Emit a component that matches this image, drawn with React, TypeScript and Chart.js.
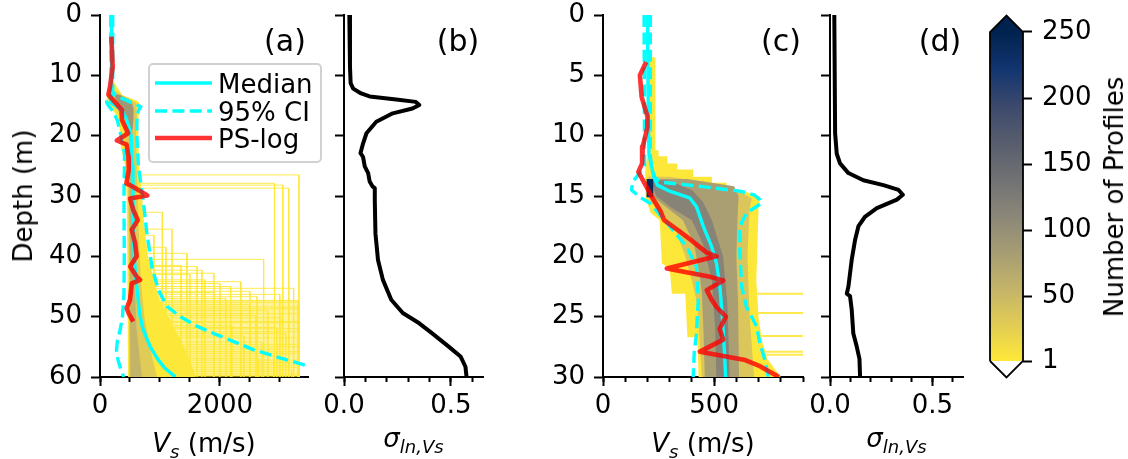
import React, { useEffect, useRef } from "react";
import { Chart, registerables } from "chart.js";

Chart.register(...registerables);

const W = 1128;
const H = 459;
const FONT_FAMILY = "'DejaVu Sans', sans-serif";
const FONT_SIZE = 26;
const PANEL_FONT_SIZE = 30;
const BASELINE_RATIO = 22 / 26; // baseline offset of DejaVu Sans in a line box as tall as the font

const CYAN = "#00ffff";
const RED = "rgba(255, 0, 0, 0.8)";
const DASH = [12, 5.4];

// [depth (m), value] rows
type Row = [number, number];

// ---------------- Panel (a): 0-60 m ----------------
const aMedian: Row[] = [[0, 195], [13.3, 192], [14.0, 172], [14.6, 192], [15.7, 360], [17, 430], [18.5, 480], [20, 520], [25, 535], [30, 550], [35, 555], [40, 570], [44, 600], [46, 625], [48, 645], [50, 670], [52, 715], [55, 840], [57, 960], [58.5, 1080], [60, 1260]];
const aLower: Row[] = [[0, 180], [13.3, 185], [13.9, 130], [14.4, 110], [15.0, 140], [16, 220], [17.5, 290], [20, 350], [23, 410], [30, 400], [40, 405], [46, 400], [50, 375], [52, 340], [54, 290], [55.5, 275], [57.2, 300], [58.8, 350], [60, 395]];
const aUpper: Row[] = [[0, 212], [12.8, 212], [13.3, 260], [13.6, 320], [14.4, 500], [15.2, 680], [15.7, 650], [16.6, 615], [20, 615], [25, 640], [30.7, 720], [36, 780], [41.7, 865], [45.6, 975], [48.3, 1117], [50, 1340], [51.5, 1600], [52.8, 1900], [54, 2200], [55.5, 2565], [57.2, 3130], [58.3, 3515]];
const aPsLog: Row[] = [[3.6, 190], [8.6, 212], [11.9, 167], [13.2, 140], [15.7, 360], [17.4, 365], [19.6, 470], [20.8, 280], [21.5, 445], [23.5, 475], [25.7, 480], [27.9, 440], [28.3, 520], [29.9, 790], [30.4, 500], [32.3, 555], [34, 630], [35.6, 530], [37.8, 585], [40, 612], [41.7, 502], [43.4, 614], [43.9, 670], [44.5, 530], [47.2, 500], [48.6, 445], [49.4, 475], [50.8, 555]];

// profile density bands (left edge and right edge, traced down in depth)
const aSparseLeft: Row[] = [[47.3, 1000], [50, 1150], [53, 1300], [56, 1450], [60, 1600]];
const aSparseRight: Row[] = [[47.3, 3330], [60, 3330]];
const aBandLeft: Row[] = [[10.8, 180], [11.5, 165], [12.5, 140], [13.5, 115], [14.5, 108], [15.3, 140], [16, 230], [17, 300], [19, 330], [22, 350], [25, 420], [30, 445], [40, 455], [50, 462], [60, 468]];
const aBandRight: Row[] = [[10.8, 215], [11.5, 260], [12.2, 300], [12.8, 340], [13.3, 380], [13.6, 450], [14.2, 620], [15.0, 690], [15.8, 665], [17, 640], [20, 635], [25, 655], [30, 700], [35, 740], [40, 800], [44, 900], [47.3, 1000], [50, 1150], [53, 1300], [56, 1450], [60, 1600]];
const aCore1Left: Row[] = [[12.6, 170], [13.5, 150], [14.5, 180], [16, 300], [18, 390], [22, 430], [30, 470], [40, 480], [50, 485], [60, 490]];
const aCore1Right: Row[] = [[12.6, 250], [13.5, 400], [14.5, 600], [16, 615], [20, 600], [25, 610], [30, 630], [40, 660], [45, 690], [50, 740], [55, 830], [60, 950]];
const aCore2Left: Row[] = [[13.2, 230], [14.5, 290], [16, 380], [17.5, 450], [19, 480]];
const aCore2Right: Row[] = [[13.2, 330], [14.2, 520], [15.5, 560], [17.5, 555], [19, 545]];
const aCore3Left: Row[] = [[19, 485], [30, 495], [45, 500], [60, 505]];
const aCore3Right: Row[] = [[19, 540], [30, 560], [45, 580], [52, 610], [60, 700]];
const aBandCounts = [1, 2, 30, 90, 55];

// single profiles stepping to a stiff layer: depth of the step, velocity below it
const aStepDepth = [26.5, 27.9, 28.2, 28.7, 32.7, 35.5, 36.5, 38.5, 39.5, 40.5, 41.5, 41.7, 42.3, 42.8, 43.0, 43.9, 44.2, 44.5, 45.0, 45.3, 45.8, 46.0, 46.3, 46.7, 47.0, 47.3, 47.6, 48.0, 48.4, 48.7, 49.0, 49.5, 49.8, 50.2, 50.8, 51.0, 51.5, 51.8, 52.0, 52.5, 52.8, 53.2, 53.5, 54.2, 54.6, 55.0, 55.4, 55.8, 56.1, 56.5, 56.9, 57.2, 57.6, 58.0, 58.4, 58.8, 59.1, 59.5, 59.8];
const aStepVs = [3320, 2910, 3050, 3150, 1040, 1200, 900, 1100, 1450, 2730, 1350, 1620, 1700, 1900, 1500, 1750, 2350, 2000, 2180, 3230, 2500, 1900, 3000, 2620, 2100, 3300, 3320, 2500, 3320, 3320, 2800, 3320, 2600, 3000, 3320, 3320, 2200, 2950, 3320, 3320, 3100, 2400, 3320, 2700, 3320, 3320, 3000, 3320, 3320, 2900, 2650, 3320, 3320, 3320, 3320, 3200, 3000, 3320, 3320];
const aStepFrom = 600;

// ---------------- Panel (b): sigma ln Vs, 0-60 m ----------------
const bSigma: Row[] = [[0, 0.025], [8.6, 0.028], [11.3, 0.031], [12.2, 0.043], [13.0, 0.08], [13.5, 0.12], [14.0, 0.244], [14.4, 0.336], [14.9, 0.352], [15.5, 0.32], [16.3, 0.228], [17.7, 0.151], [19.6, 0.105], [21.3, 0.089], [22.9, 0.077], [23.5, 0.089], [25.1, 0.097], [26.2, 0.113], [27.6, 0.12], [28.4, 0.133], [28.7, 0.144], [30.7, 0.144], [36.2, 0.147], [40.6, 0.159], [43.9, 0.182], [47.2, 0.221], [49.4, 0.275], [51.1, 0.352], [52.8, 0.414], [55, 0.491], [56.6, 0.545], [58.3, 0.568], [60, 0.573]];

// ---------------- Panel (c): 0-30 m ----------------
const cMedian: Row[] = [[0, 200], [9, 204], [11.5, 207], [12.6, 219], [13.4, 228], [14.1, 245], [14.6, 300], [15.15, 390], [15.9, 421], [17.5, 451], [19.2, 489], [20.6, 511], [22.5, 526], [25, 537], [27.8, 546], [30, 552]];
const cLower: Row[] = [[0, 185], [12.5, 187], [13.2, 160], [13.8, 135], [14.5, 128], [15.1, 166], [15.6, 212], [17.5, 300], [19.2, 377], [20.9, 421], [23.6, 429], [25, 424], [26.4, 421], [27.8, 411], [30, 406]];
const cUpper: Row[] = [[0, 213], [11.7, 213], [12.8, 220], [13.5, 235], [13.85, 260], [14.2, 440], [14.6, 616], [14.9, 680], [15.3, 706], [15.6, 714], [16.4, 646], [17.5, 616], [19.7, 616], [22.5, 624], [24.2, 646], [25.8, 691], [27.2, 706], [28.6, 729], [30, 744]];
const cPsLog: Row[] = [[3.9, 194], [5, 166], [6.8, 174], [8.4, 200], [9.3, 200], [10.9, 179], [12.3, 176], [13, 159], [15.3, 227], [16.2, 257], [17, 275], [17.8, 335], [18.6, 392], [19.7, 467], [20, 511], [21, 287], [21.7, 482], [22, 541], [22.8, 467], [23.6, 489], [24.2, 511], [25, 553], [26, 525], [26.9, 541], [27.9, 436], [28.6, 640], [29.1, 706], [30, 792]];

const cBandLeft: Row[] = [[3.5, 203], [11, 203], [13, 190], [15.2, 192], [16.4, 215], [17, 255], [20.6, 265], [21, 300], [23.1, 310], [23.1, 370], [26.7, 380], [26.7, 425], [30, 430]];
const cBandRight: Row[] = [[3.5, 236], [11.2, 236], [11.2, 250], [11.7, 250], [11.7, 290], [12.3, 290], [12.3, 335], [12.8, 335], [12.8, 405], [13.4, 405], [13.4, 490], [13.9, 490], [13.9, 556], [14.5, 556], [14.5, 620], [14.9, 680], [15.2, 706], [16.0, 700], [22, 690], [25, 700], [27, 715], [28.5, 740], [30, 800]];
const cOliveLeft: Row[] = [[13.4, 200], [15.2, 205], [16.5, 260], [17.5, 320], [20, 370], [22, 400], [24, 425], [30, 445]];
const cOliveRight: Row[] = [[13.4, 300], [13.9, 470], [14.5, 600], [15.2, 670], [16, 660], [20, 650], [25, 660], [30, 680]];
const cGrayLeft: Row[] = [[13.6, 215], [14.2, 215], [15.2, 235], [16, 290], [17, 360], [19, 410], [21, 430], [23, 445], [26, 452], [30, 458]];
const cGrayRight: Row[] = [[13.6, 380], [14.2, 590], [15, 610], [17, 605], [20, 600], [24, 608], [30, 612]];
const cDarkLeft: Row[] = [[13.7, 215], [15, 240], [16, 310], [17, 400], [19, 450], [22, 490], [26, 505], [30, 510]];
const cDarkRight: Row[] = [[13.7, 290], [14.5, 400], [15.5, 450], [17, 490], [20, 540], [24, 560], [30, 570]];
const cPeakLeft: Row[] = [[13.6, 196], [15.1, 196]];
const cPeakRight: Row[] = [[13.6, 226], [15.1, 226]];
const cBandCounts = [2, 35, 80, 115, 240];

const cStepDepth = [23.1, 24.7, 26.6, 27.9, 28.15];
const cStepVs = [950, 950, 950, 950, 950];
const cStepFrom = 690;

// ---------------- Panel (d): sigma ln Vs, 0-30 m ----------------
const dSigma: Row[] = [[0, 0.021], [9.8, 0.025], [11.5, 0.033], [12.3, 0.049], [13.1, 0.09], [13.7, 0.163], [14.1, 0.261], [14.5, 0.335], [14.9, 0.356], [15.3, 0.327], [16.0, 0.229], [16.7, 0.172], [17.5, 0.139], [18.6, 0.123], [20.3, 0.106], [22.5, 0.09], [23.1, 0.082], [23.3, 0.098], [24.4, 0.106], [26.4, 0.114], [27.5, 0.131], [28.5, 0.144], [30, 0.147]];

// ---------------- axes ----------------
const aXMax = 3470;
const aXMajor = [0, 2000];
const aXLabels = ["0", "2000"];
const aXMinor = [0, 500, 1000, 1500, 2000, 2500, 3000];
const aDepthTicks = [0, 10, 20, 30, 40, 50, 60];
const sigmaXMax = 0.65;
const sigmaXMajor = [0, 0.5];
const sigmaXLabels = ["0.0", "0.5"];
const sigmaXMinor = [0, 0.1, 0.2, 0.3, 0.4, 0.5, 0.6];
const cXMax = 900;
const cXMajor = [0, 500];
const cXLabels = ["0", "500"];
const cXMinor = [0, 100, 200, 300, 400, 500, 600, 700, 800, 900];
const cDepthTicks = [0, 5, 10, 15, 20, 25, 30];
const COUNT_MIN = 1;
const COUNT_MAX = 250;
const countTicks = [1, 50, 100, 150, 200, 250];

// cividis, dark to light
const CIVIDIS = ["#00224e", "#123570", "#3b496c", "#575d6d", "#707173", "#8a8678", "#a59c74", "#c3b369", "#e1cc55", "#fee838"];

function hexRgb(h: string) {
  const n = parseInt(h.slice(1), 16);
  return [(n >> 16) & 255, (n >> 8) & 255, n & 255];
}

// reversed cividis: one profile is yellow, the maximum count is navy
function profileColor(count: number, alpha = 1) {
  const c = Math.min(Math.max(count, COUNT_MIN), COUNT_MAX);
  const t = 1 - (c - COUNT_MIN) / (COUNT_MAX - COUNT_MIN);
  const pos = t * (CIVIDIS.length - 1);
  const i = Math.min(Math.floor(pos), CIVIDIS.length - 2);
  const f = pos - i;
  const a = hexRgb(CIVIDIS[i]);
  const b = hexRgb(CIVIDIS[i + 1]);
  const m = a.map((v, k) => Math.round(v + (b[k] - v) * f));
  return `rgba(${m[0]}, ${m[1]}, ${m[2]}, ${alpha})`;
}

const pts = (rows: Row[]) => rows.map(([d, v]) => ({ x: v, y: d }));
const outline = (left: Row[], right: Row[]) => [...pts(left), ...pts(right).reverse()];

function band(left: Row[], right: Row[], count: number, alpha = 1) {
  return { data: outline(left, right), fill: "shape", backgroundColor: profileColor(count, alpha), borderWidth: 0 };
}

function curve(rows: Row[], color: string, width: number, dash: number[] = []) {
  return { data: pts(rows), borderColor: color, borderWidth: width, borderDash: dash, fill: false, borderJoinStyle: "round" };
}

function steps(depths: number[], vs: number[], from: number, bottom: number, width: number) {
  const data: any[] = [];
  depths.forEach((d, i) => {
    data.push({ x: from, y: d }, { x: vs[i], y: d }, { x: vs[i], y: bottom }, { x: null, y: null });
  });
  return { data, borderColor: profileColor(1, 0.9), borderWidth: width, fill: false, spanGaps: false };
}

// ---------------- layout ----------------
const AXIS_W = 70;
const AXIS_H = 60;
const TOP = 15;
const BOTTOM = 377;
const AREA_A = { left: 100, right: 308 };
const AREA_B = { left: 344, right: 483 };
const AREA_C = { left: 603, right: 803 };
const AREA_D = { left: 830, right: 963 };
const CB = { left: 990, right: 1023, top: 32, bottom: 361, axisW: 80 };

const tickFont = { family: FONT_FAMILY, size: FONT_SIZE };
const noPad = (sc: any) => {
  sc.paddingLeft = 0;
  sc.paddingRight = 0;
  sc.paddingTop = 0;
  sc.paddingBottom = 0;
};

interface PanelSpec {
  left: number;
  right: number;
  xMax: number;
  xMajor: number[];
  xLabels: string[];
  xMinor: number[];
  yMax: number;
  yTicks: number[];
  yLabels: boolean;
  datasets: any[];
}

function panelConfig(s: PanelSpec): any {
  const n = s.datasets.length;
  return {
    type: "line",
    data: {
      datasets: s.datasets.map((d, i) => ({ order: n - i, pointRadius: 0, pointHoverRadius: 0, tension: 0, ...d })),
    },
    options: {
      responsive: false,
      animation: false,
      devicePixelRatio: 1,
      events: [],
      layout: {
        autoPadding: false,
        padding: { left: s.left - AXIS_W, right: W - s.right, top: TOP, bottom: H - BOTTOM - AXIS_H },
      },
      plugins: { legend: { display: false }, tooltip: { enabled: false }, title: { display: false } },
      scales: {
        // minor ticks: a zero-height axis sitting right on the plot edge
        xMinor: {
          type: "linear",
          axis: "x",
          position: "bottom",
          weight: 0,
          min: 0,
          max: s.xMax,
          afterBuildTicks: (sc: any) => {
            sc.ticks = s.xMinor.map((value) => ({ value }));
          },
          afterFit: (sc: any) => {
            sc.height = 0;
            noPad(sc);
          },
          ticks: { display: false },
          grid: { drawOnChartArea: false, drawTicks: true, tickLength: 5, tickWidth: 2, tickColor: "#000" },
          border: { display: false },
        },
        x: {
          type: "linear",
          position: "bottom",
          weight: 1,
          min: 0,
          max: s.xMax,
          afterBuildTicks: (sc: any) => {
            sc.ticks = s.xMajor.map((value) => ({ value }));
          },
          afterFit: (sc: any) => {
            sc.height = AXIS_H;
            noPad(sc);
          },
          ticks: {
            autoSkip: false,
            maxRotation: 0,
            minRotation: 0,
            padding: 5,
            color: "#000",
            font: tickFont,
            callback: (_v: any, i: number) => s.xLabels[i],
          },
          grid: { drawOnChartArea: false, drawTicks: true, tickLength: 9, tickWidth: 2, tickColor: "#000" },
          border: { display: true, color: "#000", width: 2 },
        },
        y: {
          type: "linear",
          position: "left",
          reverse: true,
          min: 0,
          max: s.yMax,
          afterBuildTicks: (sc: any) => {
            sc.ticks = s.yTicks.map((value) => ({ value }));
          },
          afterFit: (sc: any) => {
            sc.width = AXIS_W;
            noPad(sc);
          },
          ticks: {
            display: s.yLabels,
            autoSkip: false,
            padding: 9,
            color: "#000",
            font: tickFont,
            callback: (v: any) => String(v),
          },
          grid: { drawOnChartArea: false, drawTicks: true, tickLength: 9, tickWidth: 2, tickColor: "#000" },
          border: { display: true, color: "#000", width: 2 },
        },
      },
    },
  };
}

function colorbarConfig(): any {
  const ext = 0.05 * (COUNT_MAX - COUNT_MIN);
  const pxPerCount = (CB.bottom - CB.top) / (COUNT_MAX - COUNT_MIN);
  const extPx = ext * pxPerCount;
  const gradient = (ctx: any) => {
    const chart = ctx.chart;
    const y = chart.scales && chart.scales.y;
    if (!chart.chartArea || !y) return CIVIDIS[CIVIDIS.length - 1];
    const g = chart.ctx.createLinearGradient(0, y.getPixelForValue(COUNT_MIN), 0, y.getPixelForValue(COUNT_MAX));
    CIVIDIS.forEach((_c, i) => g.addColorStop(i / (CIVIDIS.length - 1), CIVIDIS[CIVIDIS.length - 1 - i]));
    return g;
  };
  const lo = COUNT_MIN;
  const hi = COUNT_MAX;
  const datasets = [
    {
      data: [{ x: 0, y: lo }, { x: 0.5, y: lo - ext }, { x: 1, y: lo }, { x: 1, y: hi }, { x: 0.5, y: hi + ext }, { x: 0, y: hi }, { x: 0, y: lo }],
      fill: false,
      borderColor: "#000",
      borderWidth: 1.8,
      borderJoinStyle: "miter",
      clip: false,
    },
    { data: [{ x: 0, y: lo }, { x: 1, y: lo }, { x: 1, y: hi }, { x: 0, y: hi }], fill: "shape", backgroundColor: gradient, borderWidth: 0 },
    { data: [{ x: 0, y: hi }, { x: 0.5, y: hi + ext }, { x: 1, y: hi }], fill: "shape", backgroundColor: profileColor(COUNT_MAX), borderWidth: 0 },
    { data: [{ x: 0, y: lo }, { x: 0.5, y: lo - ext }, { x: 1, y: lo }], fill: "shape", backgroundColor: "#ffffff", borderWidth: 0 },
  ];
  return {
    type: "line",
    data: { datasets: datasets.map((d, i) => ({ order: i, pointRadius: 0, pointHoverRadius: 0, ...d })) },
    options: {
      responsive: false,
      animation: false,
      devicePixelRatio: 1,
      events: [],
      layout: {
        autoPadding: false,
        padding: { left: CB.left, right: W - CB.right - CB.axisW, top: CB.top - extPx, bottom: H - CB.bottom - extPx },
      },
      plugins: { legend: { display: false }, tooltip: { enabled: false } },
      scales: {
        x: { type: "linear", min: 0, max: 1, display: false },
        y: {
          type: "linear",
          position: "right",
          min: lo - ext,
          max: hi + ext,
          afterBuildTicks: (sc: any) => {
            sc.ticks = countTicks.map((value) => ({ value }));
          },
          afterFit: (sc: any) => {
            sc.width = CB.axisW;
            noPad(sc);
          },
          ticks: { autoSkip: false, padding: 10, color: "#000", font: tickFont, callback: (v: any) => String(v) },
          grid: { drawOnChartArea: false, drawTicks: true, tickLength: 9, tickWidth: 2, tickColor: "#000" },
          border: { display: false },
        },
      },
    },
  };
}

// ---------------- text helpers ----------------
function Text({ x, baseline, align = "center", size = FONT_SIZE, children }: any) {
  return (
    <div
      style={{
        position: "absolute",
        left: x,
        top: baseline - size * BASELINE_RATIO,
        transform: align === "center" ? "translateX(-50%)" : undefined,
        fontSize: size,
        lineHeight: `${size}px`,
        whiteSpace: "nowrap",
      }}
    >
      {children}
    </div>
  );
}

function VText({ baselineX, centerY, children }: any) {
  return (
    <div
      style={{
        position: "absolute",
        left: baselineX - FONT_SIZE * (BASELINE_RATIO - 0.5),
        top: centerY,
        transform: "translate(-50%, -50%) rotate(-90deg)",
        fontSize: FONT_SIZE,
        lineHeight: `${FONT_SIZE}px`,
        whiteSpace: "nowrap",
      }}
    >
      {children}
    </div>
  );
}

const Sub = ({ children }: any) => (
  <span style={{ fontSize: 18, position: "relative", top: 6, fontStyle: "italic" }}>{children}</span>
);

const VsLabel = () => (
  <>
    <span style={{ fontStyle: "italic" }}>V</span>
    <Sub>s</Sub> (m/s)
  </>
);
const SigmaLabel = () => (
  <>
    <span style={{ fontStyle: "italic" }}>σ</span>
    <Sub>ln,Vs</Sub>
  </>
);

const legendItems = [
  { label: "Median", color: CYAN, width: 3.4, dash: "" },
  { label: "95% CI", color: CYAN, width: 3.4, dash: DASH.join(" ") },
  { label: "PS-log", color: "#ff3333", width: 4.6, dash: "" },
];

const panelTags = [
  { tag: "(a)", x: 285 },
  { tag: "(b)", x: 458 },
  { tag: "(c)", x: 781 },
  { tag: "(d)", x: 940 },
];

function Legend() {
  const box = { left: 148, top: 63, width: 174, height: 100 };
  const firstLine = 83;
  const step = 27.5;
  return (
    <>
      <div
        style={{
          position: "absolute",
          left: box.left,
          top: box.top,
          width: box.width,
          height: box.height,
          boxSizing: "border-box",
          border: "2px solid rgba(204, 204, 204, 0.9)",
          borderRadius: 5,
          background: "rgba(255, 255, 255, 0.8)",
        }}
      />
      {legendItems.map((it, i) => {
        const y = firstLine + i * step;
        return (
          <React.Fragment key={it.label}>
            <svg style={{ position: "absolute", left: 155, top: y - 5 }} width={57} height={10}>
              <line x1={0} y1={5} x2={57} y2={5} stroke={it.color} strokeWidth={it.width} strokeDasharray={it.dash || undefined} />
            </svg>
            <Text x={218} baseline={y + 10} align="left">
              {it.label}
            </Text>
          </React.Fragment>
        );
      })}
    </>
  );
}

export default function App() {
  const aRef = useRef<HTMLCanvasElement>(null);
  const bRef = useRef<HTMLCanvasElement>(null);
  const cRef = useRef<HTMLCanvasElement>(null);
  const dRef = useRef<HTMLCanvasElement>(null);
  const cbRef = useRef<HTMLCanvasElement>(null);

  useEffect(() => {
    const charts: Chart[] = [];
    charts.push(
      new Chart(
        aRef.current as HTMLCanvasElement,
        panelConfig({
          ...AREA_A,
          xMax: aXMax,
          xMajor: aXMajor,
          xLabels: aXLabels,
          xMinor: aXMinor,
          yMax: 60,
          yTicks: aDepthTicks,
          yLabels: true,
          datasets: [
            band(aSparseLeft, aSparseRight, aBandCounts[0], 0.5),
            steps(aStepDepth, aStepVs, aStepFrom, 60, 1),
            band(aBandLeft, aBandRight, aBandCounts[1]),
            band(aCore1Left, aCore1Right, aBandCounts[2]),
            band(aCore2Left, aCore2Right, aBandCounts[3]),
            band(aCore3Left, aCore3Right, aBandCounts[4]),
            curve(aLower, CYAN, 3.4, DASH),
            curve(aUpper, CYAN, 3.4, DASH),
            curve(aMedian, CYAN, 3.4),
            curve(aPsLog, RED, 4.6),
          ],
        })
      )
    );
    charts.push(
      new Chart(
        bRef.current as HTMLCanvasElement,
        panelConfig({
          ...AREA_B,
          xMax: sigmaXMax,
          xMajor: sigmaXMajor,
          xLabels: sigmaXLabels,
          xMinor: sigmaXMinor,
          yMax: 60,
          yTicks: aDepthTicks,
          yLabels: false,
          datasets: [curve(bSigma, "#000", 4)],
        })
      )
    );
    charts.push(
      new Chart(
        cRef.current as HTMLCanvasElement,
        panelConfig({
          ...AREA_C,
          xMax: cXMax,
          xMajor: cXMajor,
          xLabels: cXLabels,
          xMinor: cXMinor,
          yMax: 30,
          yTicks: cDepthTicks,
          yLabels: true,
          datasets: [
            steps(cStepDepth, cStepVs, cStepFrom, 30, 2),
            band(cBandLeft, cBandRight, cBandCounts[0]),
            band(cOliveLeft, cOliveRight, cBandCounts[1]),
            band(cGrayLeft, cGrayRight, cBandCounts[2]),
            band(cDarkLeft, cDarkRight, cBandCounts[3]),
            band(cPeakLeft, cPeakRight, cBandCounts[4]),
            curve(cLower, CYAN, 3.4, DASH),
            curve(cUpper, CYAN, 3.4, DASH),
            curve(cMedian, CYAN, 3.4),
            curve(cPsLog, RED, 4.6),
          ],
        })
      )
    );
    charts.push(
      new Chart(
        dRef.current as HTMLCanvasElement,
        panelConfig({
          ...AREA_D,
          xMax: sigmaXMax,
          xMajor: sigmaXMajor,
          xLabels: sigmaXLabels,
          xMinor: sigmaXMinor,
          yMax: 30,
          yTicks: cDepthTicks,
          yLabels: false,
          datasets: [curve(dSigma, "#000", 4)],
        })
      )
    );
    charts.push(new Chart(cbRef.current as HTMLCanvasElement, colorbarConfig()));
    return () => charts.forEach((c) => c.destroy());
  }, []);

  const canvasStyle: React.CSSProperties = { position: "absolute", left: 0, top: 0, width: W, height: H };

  return (
    <div
      style={{
        position: "absolute",
        left: 0,
        top: 0,
        width: W,
        height: H,
        overflow: "hidden",
        background: "#ffffff",
        color: "#000",
        fontFamily: FONT_FAMILY,
      }}
    >
      <canvas ref={aRef} width={W} height={H} style={canvasStyle} />
      <canvas ref={bRef} width={W} height={H} style={canvasStyle} />
      <canvas ref={cRef} width={W} height={H} style={canvasStyle} />
      <canvas ref={dRef} width={W} height={H} style={canvasStyle} />
      <canvas ref={cbRef} width={W} height={H} style={canvasStyle} />

      <Legend />

      {panelTags.map((p) => (
        <Text key={p.tag} x={p.x} baseline={51} size={PANEL_FONT_SIZE}>
          {p.tag}
        </Text>
      ))}

      <VText baselineX={31.5} centerY={196}>Depth (m)</VText>
      <VText baselineX={1123} centerY={196.5}>Number of Profiles</VText>

      <Text x={(AREA_A.left + AREA_A.right) / 2} baseline={452}>
        <VsLabel />
      </Text>
      <Text x={(AREA_B.left + AREA_B.right) / 2} baseline={447}>
        <SigmaLabel />
      </Text>
      <Text x={(AREA_C.left + AREA_C.right) / 2} baseline={452}>
        <VsLabel />
      </Text>
      <Text x={(AREA_D.left + AREA_D.right) / 2} baseline={447}>
        <SigmaLabel />
      </Text>
    </div>
  );
}
